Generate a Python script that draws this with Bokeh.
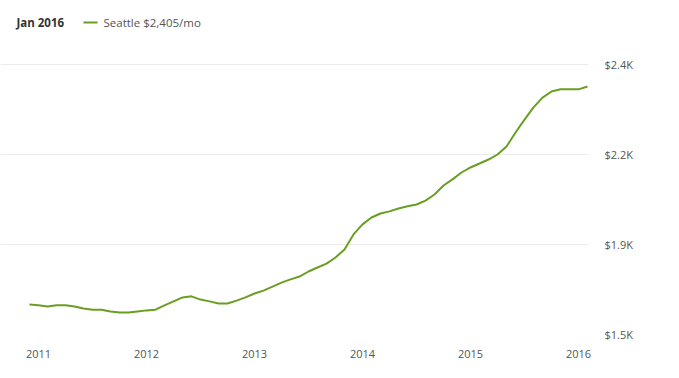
from bokeh.plotting import figure
from bokeh.models import FixedTicker, Label
from bokeh.embed import file_html
from bokeh.resources import INLINE

# Monthly median rent, Seattle, Dec 2010 .. Feb 2016
months_start = 2010 + 11 / 12
rent = [1733, 1731, 1728, 1731, 1731, 1728, 1722, 1719, 1719, 1714,
        1711, 1711, 1714, 1717, 1719, 1731, 1742, 1753, 1756, 1747,
        1742, 1736, 1736, 1744, 1753, 1764, 1772, 1783, 1794, 1803,
        1811, 1825, 1836, 1847, 1864, 1886, 1928, 1956, 1975, 1986,
        1992, 2000, 2006, 2011, 2022, 2039, 2064, 2081, 2100, 2114,
        2125, 2136, 2150, 2172, 2211, 2247, 2281, 2308, 2325, 2331,
        2331, 2331, 2339]
dates = [months_start + i / 12 for i in range(len(rent))]

year_ticks = [2011, 2012, 2013, 2014, 2015, 2016]
y_ticks = [1650, 1900, 2150, 2400]
y_labels = ["$1.5K", "$1.9K", "$2.2K", "$2.4K"]

header_date = "Jan 2016"
legend_text = "Seattle $2,405/mo"

GREEN = "#6a9e22"
FONT = "Open Sans"

PX_PER_YEAR = 108
X0 = 2011 - 9 / PX_PER_YEAR          # data x at pixel 29 (start of grid)
X_END = X0 + 559 / PX_PER_YEAR       # data x at pixel 588
Y_PER_PX = 750 / 270                 # $ per pixel


def hx(px):
    return X0 + (px - 29) / PX_PER_YEAR


def hy(py):
    return 2400 + (64 - py) * Y_PER_PX


p = figure(width=679, height=378, output_backend="svg", toolbar_location=None,
           x_range=(hx(0), X_END),
           y_range=(1650, hy(0)),
           x_axis_location="below", y_axis_location="right",
           min_border_left=0, min_border_right=91,
           min_border_top=0, min_border_bottom=44)
p.outline_line_color = None
p.background_fill_color = "white"
p.border_fill_color = "white"

p.line(dates, rent, line_color=GREEN, line_width=2)

# x axis
p.xaxis.ticker = FixedTicker(ticks=year_ticks)
p.xaxis.axis_line_color = None
p.xaxis.major_tick_line_color = None
p.xaxis.minor_tick_line_color = None
p.xaxis.major_label_text_font = FONT
p.xaxis.major_label_text_font_size = "11px"
p.xaxis.major_label_text_color = "#555555"
p.xaxis.major_label_standoff = 9
p.xgrid.visible = False

# y axis
p.yaxis.ticker = FixedTicker(ticks=y_ticks)
p.yaxis.major_label_overrides = {t: l for t, l in zip(y_ticks, y_labels)}
p.yaxis.axis_line_color = None
p.yaxis.major_tick_line_color = None
p.yaxis.minor_tick_line_color = None
p.yaxis.major_label_text_font = FONT
p.yaxis.major_label_text_font_size = "11px"
p.yaxis.major_label_text_color = "#555555"
p.yaxis.major_label_standoff = 10
p.yaxis.major_label_text_align = "left"
p.ygrid.ticker = FixedTicker(ticks=y_ticks)
p.ygrid.grid_line_color = "#ececec"
p.ygrid.grid_line_width = 1
p.ygrid.bounds = (X0, X_END)

# header
HY = hy(22)
p.add_layout(Label(x=hx(16), y=HY, text=header_date, text_font=FONT,
                   text_font_style="bold", text_font_size="11.5px",
                   text_color="#333333", text_baseline="middle"))
p.segment(x0=[hx(83)], y0=[HY], x1=[hx(97)], y1=[HY],
          line_color=GREEN, line_width=2)
p.add_layout(Label(x=hx(103), y=HY, text=legend_text, text_font=FONT,
                   text_font_size="11.5px", text_color="#555555",
                   text_baseline="middle"))

open("out.html", "w").write(file_html(p, INLINE))
